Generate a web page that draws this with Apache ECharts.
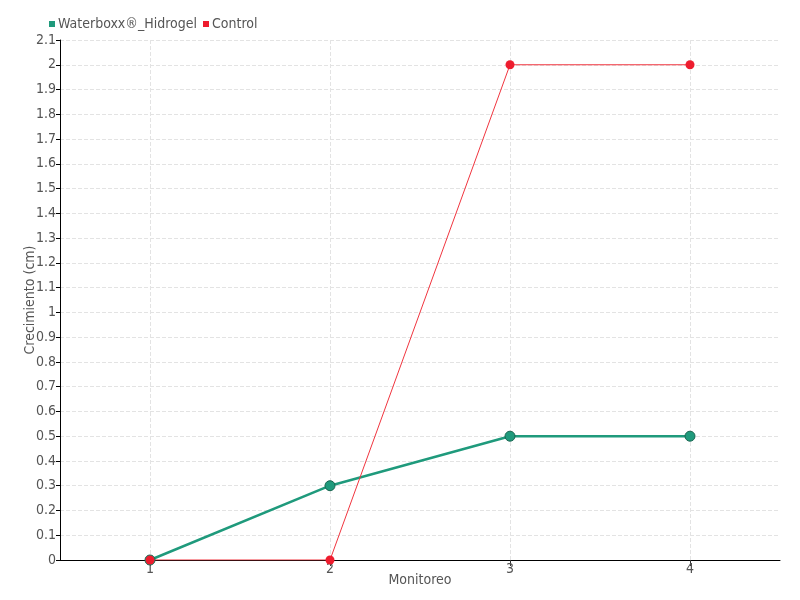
<!DOCTYPE html>
<html>
<head>
<meta charset="utf-8">
<script src="https://cdn.jsdelivr.net/npm/echarts@6/dist/echarts.min.js"></script>
<style>
  html, body { margin: 0; padding: 0; background: #fff; }
  #chart { width: 800px; height: 600px; }
</style>
</head>
<body>
<div id="chart"></div>
<script>
// monitoreo 1..4
const monitoreo = [1, 2, 3, 4];
const waterboxx = [0, 0.3, 0.5, 0.5];
const control = [0, 0, 2, 2];
const seriesNames = ["Waterboxx®_Hidrogel", "Control"];

const font = "'Liberation Sans Narrow', 'DejaVu Sans Condensed', sans-serif";

let myChart = echarts.init(document.getElementById("chart"));
let option = {
  animation: false,
  textStyle: { fontFamily: font },
  legend: {
    data: seriesNames,
    left: 44,
    top: 12,
    itemWidth: 6,
    itemHeight: 6,
    itemGap: 6,
    icon: "rect",
    itemStyle: { borderWidth: 0 },
    textStyle: { color: "#555", fontSize: 14, fontFamily: font, padding: [0, 0, 0, -2] }
  },
  grid: { left: 60, right: 20, top: 40, bottom: 40 },
  xAxis: {
    type: "value",
    min: 0.5,
    max: 4.5,
    name: "Monitoreo",
    nameLocation: "middle",
    nameGap: 13,
    nameMoveOverlap: false,
    nameTextStyle: { color: "#555", fontSize: 14, fontFamily: font },
    axisLine: { lineStyle: { color: "#000" } },
    axisTick: { show: true, customValues: monitoreo, length: 6, lineStyle: { color: "#333" } },
    axisLabel: { customValues: monitoreo, color: "#555", fontSize: 14, margin: 2, fontFamily: font },
    splitLine: { show: true, lineStyle: { type: "dashed", color: "#e3e3e3" } }
  },
  yAxis: {
    type: "value",
    min: 0,
    max: 2.1,
    interval: 0.1,
    name: "Crecimiento (cm)",
    nameLocation: "middle",
    nameGap: 23,
    nameMoveOverlap: false,
    nameTextStyle: { color: "#555", fontSize: 14, fontFamily: font },
    axisLine: { show: true, lineStyle: { color: "#000" } },
    axisTick: { show: true, length: 4, lineStyle: { color: "#000" } },
    axisLabel: { color: "#555", fontSize: 14, margin: 4, fontFamily: font },
    splitLine: { show: true, lineStyle: { type: "dashed", color: "#e3e3e3" } }
  },
  series: [
    {
      name: seriesNames[0],
      type: "line",
      data: monitoreo.map((m, i) => [m, waterboxx[i]]),
      color: "#1f9a7c",
      symbol: "circle",
      symbolSize: 10,
      lineStyle: { width: 2.5, color: "#1f9a7c" },
      itemStyle: { color: "#1f9a7c", borderColor: "#17654f", borderWidth: 1 }
    },
    {
      name: seriesNames[1],
      type: "line",
      data: monitoreo.map((m, i) => [m, control[i]]),
      color: "#ee1c2e",
      symbol: "circle",
      symbolSize: 9,
      lineStyle: { width: 1, color: "#f0353f" },
      itemStyle: { color: "#ee1c2e" }
    }
  ]
};
myChart.setOption(option);
window.addEventListener("resize", () => {
  myChart.resize();
});
</script>
</body>
</html>
